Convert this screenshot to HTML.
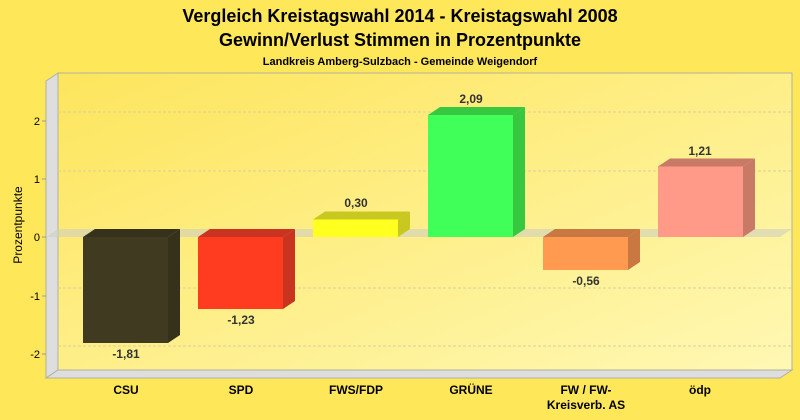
<!DOCTYPE html><html><head><meta charset="utf-8"><style>body{margin:0;background:#ffe75a}svg{display:block}</style></head><body>
<svg width="800" height="420" xmlns="http://www.w3.org/2000/svg" font-family="Liberation Sans, Arial, sans-serif">
<defs><linearGradient id="bg" x1="0" y1="0" x2="1" y2="1"><stop offset="0" stop-color="#fde55c"/><stop offset="1" stop-color="#fff8b4"/></linearGradient></defs>
<rect width="800" height="420" fill="#ffe75a"/>
<text x="400" y="22" text-anchor="middle" font-size="18" font-weight="bold" fill="#000">Vergleich Kreistagswahl 2014 - Kreistagswahl 2008</text>
<text x="400" y="46" text-anchor="middle" font-size="18" font-weight="bold" fill="#000">Gewinn/Verlust Stimmen in Prozentpunkte</text>
<text x="400" y="65" text-anchor="middle" font-size="11" font-weight="bold" fill="#000">Landkreis Amberg-Sulzbach - Gemeinde Weigendorf</text>
<rect x="58" y="73" width="734" height="297" fill="url(#bg)" stroke="#b0b0a0"/>
<polygon points="46,81 58,73 58,370 46,378" fill="#dedede" stroke="#b0b0a0"/>
<polygon points="46,378 58,370 792,370 780,378" fill="#dedede" stroke="#b0b0a0"/>
<g stroke="#d8d0a0" stroke-dasharray="3,2"><line x1="58" y1="112" x2="792" y2="112"/><line x1="58" y1="171" x2="792" y2="171"/><line x1="58" y1="288" x2="792" y2="288"/><line x1="58" y1="346" x2="792" y2="346"/></g>
<polygon points="46,237 58,229 792,229 780,237" fill="#cfcfbf" opacity="0.6"/>
<g font-size="11" fill="#000" text-anchor="end"><text x="40" y="125">2</text><text x="40" y="183">1</text><text x="40" y="241">0</text><text x="40" y="300">-1</text><text x="40" y="358">-2</text></g>
<g stroke="#999"><line x1="42" y1="121" x2="46" y2="121"/><line x1="42" y1="179" x2="46" y2="179"/><line x1="42" y1="237" x2="46" y2="237"/><line x1="42" y1="296" x2="46" y2="296"/><line x1="42" y1="354" x2="46" y2="354"/></g>
<text transform="translate(22,225) rotate(-90)" text-anchor="middle" font-size="12" fill="#000">Prozentpunkte</text>
<!-- bars -->
<g>
<rect x="83" y="237" width="85" height="106" fill="#3f3a20"/><polygon points="83,237 95,229 180,229 168,237" fill="#35311a"/><polygon points="168,237 180,229 180,335 168,343" fill="#35311a"/>
<rect x="198" y="237" width="85" height="72" fill="#ff3c20"/><polygon points="198,237 210,229 295,229 283,237" fill="#c83420"/><polygon points="283,237 295,229 295,301 283,309" fill="#c83420"/>
<rect x="313" y="219.5" width="85" height="17.5" fill="#ffff20"/><polygon points="313,219.5 325,211.5 410,211.5 398,219.5" fill="#c8c820"/><polygon points="398,219.5 410,211.5 410,229 398,237" fill="#c8c820"/>
<rect x="428" y="115" width="85" height="122" fill="#40ff58"/><polygon points="428,115 440,107 525,107 513,115" fill="#38c840"/><polygon points="513,115 525,107 525,229 513,237" fill="#38c840"/>
<rect x="543" y="237" width="85" height="33" fill="#ff9a50"/><polygon points="543,237 555,229 640,229 628,237" fill="#c87840"/><polygon points="628,237 640,229 640,262 628,270" fill="#c87840"/>
<rect x="658" y="166.5" width="85" height="70.5" fill="#ff9a88"/><polygon points="658,166.5 670,158.5 755,158.5 743,166.5" fill="#c87a66"/><polygon points="743,166.5 755,158.5 755,229 743,237" fill="#c87a66"/>
</g>
<g font-size="12" font-weight="bold" fill="#333" text-anchor="middle">
<text x="126" y="358">-1,81</text><text x="241" y="324">-1,23</text><text x="356" y="207">0,30</text><text x="471" y="103">2,09</text><text x="586" y="285">-0,56</text><text x="700" y="155">1,21</text>
</g>
<g font-size="12" font-weight="bold" fill="#000" text-anchor="middle">
<text x="126" y="394">CSU</text><text x="241" y="394">SPD</text><text x="356" y="394">FWS/FDP</text><text x="471" y="394">GRÜNE</text><text x="586" y="394">FW / FW-</text><text x="586" y="409">Kreisverb. AS</text><text x="700" y="394">ödp</text>
</g>
</svg></body></html>
